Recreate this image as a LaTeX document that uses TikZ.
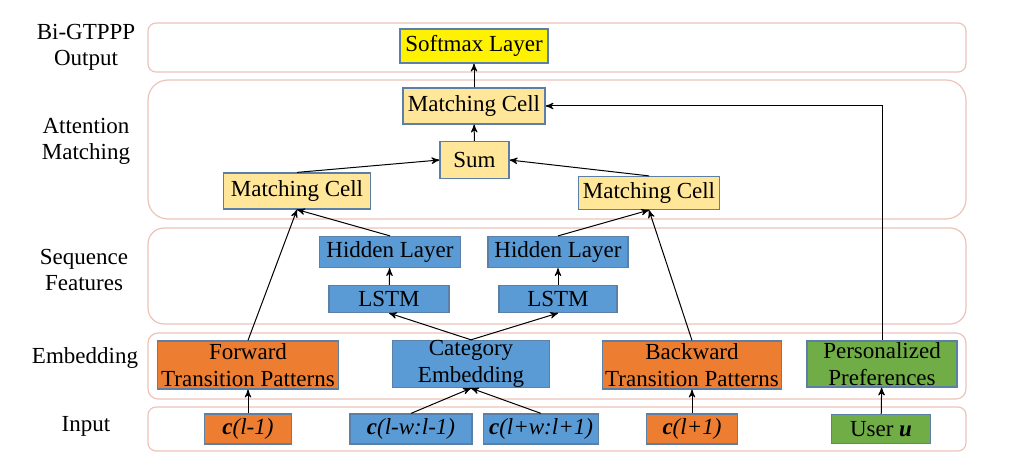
\documentclass[tikz,border=0pt]{standalone}
\usepackage{fontspec}
\setmainfont{Liberation Serif}
\usetikzlibrary{arrows}
\definecolor{bandline}{HTML}{EDC3BA}
\definecolor{boxline}{HTML}{5B7FA6}
\definecolor{cellfill}{HTML}{FFE699}
\definecolor{bluefill}{HTML}{5B9BD5}
\definecolor{orangefill}{HTML}{ED7D31}
\definecolor{greenfill}{HTML}{70AD47}

\begin{document}
\begin{tikzpicture}[x=0.5pt,y=-0.5pt,->,>=stealth',line width=0.5pt,
	band/.style={draw=bandline,line width=0.6pt,-},
	side label/.style={align=center,font=\fontsize{11.5}{13}\selectfont},
	box/.style={draw=boxline,line width=0.6pt,inner sep=0pt,align=center,
		font=\fontsize{11.5}{13.5}\selectfont},
	cell/.style={box,fill=cellfill},
	blue box/.style={box,fill=bluefill},
	orange box/.style={box,fill=orangefill},
	green box/.style={box,fill=greenfill}]
	\useasboundingbox (0,0) rectangle (1029,470);
	
	% layer bands
	\draw[band,rounded corners=4pt] (148,23) rectangle (966,72);
	\draw[band,rounded corners=10pt] (148,80) rectangle (966,219);
	\draw[band,rounded corners=8pt] (148,228) rectangle (966,324);
	\draw[band,rounded corners=5pt] (148,333) rectangle (966,399);
	\draw[band,rounded corners=4pt] (148,407) rectangle (966,451);
	
	\node[side label] (outlab) at (86,47) {Bi-GTPPP\\Output};
	\node[side label] (attlab) at (86,141) {Attention\\Matching};
	\node[side label] (seqlab) at (84,270) {Sequence\\Features};
	\node[side label] (emblab) at (85,358) {Embedding};
	\node[side label] (inlab) at (86,426) {Input};
	
	% nodes
	\node[box,fill=yellow,minimum width=74pt,minimum height=17pt] (soft) at (474,46) {Softmax Layer};
	\node[cell,minimum width=71pt,minimum height=18pt] (mtop) at (474,106) {Matching Cell};
	\node[cell,minimum width=34.5pt,minimum height=18.5pt] (sum) at (474.5,160) {Sum};
	\node[cell,minimum width=73.5pt,minimum height=18pt] (mleft) at (297,191) {Matching Cell};
	\node[cell,minimum width=70.5pt,minimum height=16.5pt] (mright) at (649,193) {Matching Cell};
	\node[blue box,minimum width=70.5pt,minimum height=15.5pt] (hleft) at (390,252) {Hidden Layer};
	\node[blue box,minimum width=70pt,minimum height=15.5pt] (hright) at (558,252) {Hidden Layer};
	\node[blue box,minimum width=60pt,minimum height=13.5pt] (lleft) at (389,299) {LSTM};
	\node[blue box,minimum width=59pt,minimum height=13.5pt] (lright) at (558,299) {LSTM};
	\node[orange box,minimum width=90.5pt,minimum height=24pt] (fwd) at (248,365) {Forward\\Transition Patterns};
	\node[blue box,minimum width=78.5pt,minimum height=23.5pt] (cat) at (471,364) {Category\\Embedding};
	\node[orange box,minimum width=89.5pt,minimum height=24pt] (bwd) at (692,365) {Backward\\Transition Patterns};
	\node[green box,minimum width=75pt,minimum height=23pt] (pref) at (882,364) {Personalized\\Preferences};
	\node[orange box,minimum width=43.5pt,minimum height=15pt] (cprev) at (248,429) {\textbf{\textit{c}}\textit{(l-1)}};
	\node[blue box,minimum width=61pt,minimum height=15pt] (cleft) at (411,429) {\textbf{\textit{c}}\textit{(l-w:l-1)}};
	\node[blue box,minimum width=57.5pt,minimum height=15pt] (cright) at (541,429) {\textbf{\textit{c}}\textit{(l+w:l+1)}};
	\node[orange box,minimum width=45.5pt,minimum height=15pt] (cnext) at (692,429) {\textbf{\textit{c}}\textit{(l+1)}};
	\node[green box,minimum width=49.5pt,minimum height=14.5pt] (user) at (881,429) {User \textbf{\textit{u}}};
	
	% connectors
	\draw (cprev) -- (fwd);
	\draw (cleft.north) -- (cat.south);
	\draw (cright.north) -- (cat.south);
	\draw (cnext) -- (bwd);
	\draw (user) -- (pref);
	\draw (cat.north) -- (lleft.south);
	\draw (cat.north) -- (lright.south);
	\draw (lleft) -- (hleft);
	\draw (lright) -- (hright);
	\draw (hleft.north) -- (mleft.south);
	\draw (fwd.north) -- (mleft.south);
	\draw (hright.north) -- (mright.south);
	\draw (bwd.north) -- (mright.south);
	\draw (mleft.north) -- (sum.west);
	\draw (mright.north) -- (sum.east);
	\draw (sum) -- (mtop);
	\draw (mtop) -- (soft);
	\draw (pref.north) |- (mtop.east);
\end{tikzpicture}
\end{document}
